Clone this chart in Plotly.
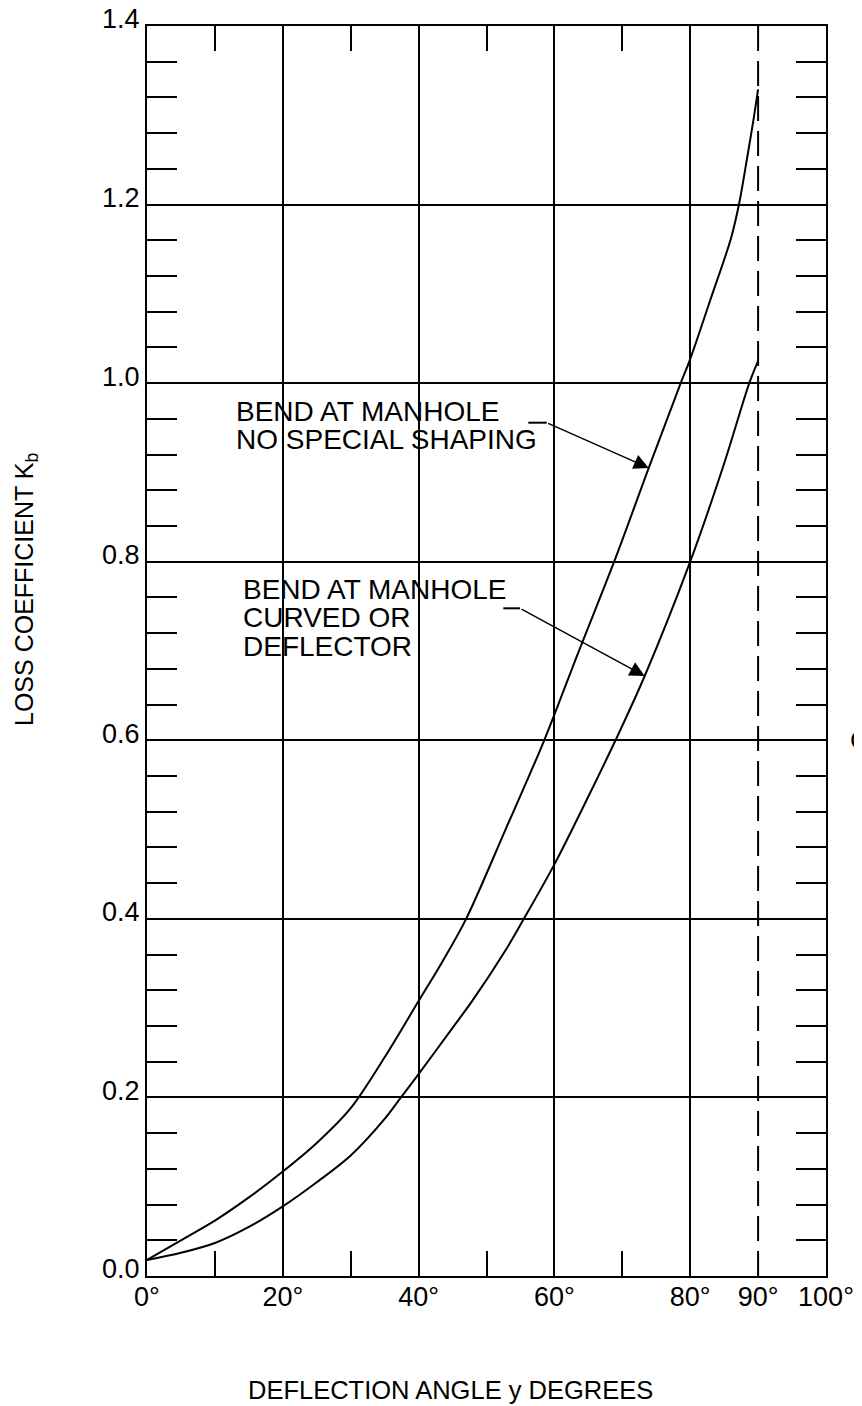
import plotly.graph_objects as go

# ---------------- data ----------------
angle_no_shaping = [0, 5, 10, 15, 20, 25, 30, 35, 40, 43.5, 47, 52.8, 58.5, 63.5,
                    68.8, 73.9, 78.6, 80, 83, 86, 87.2, 88.4, 89.3, 90]
k_no_shaping = [0.018, 0.040, 0.062, 0.088, 0.117, 0.149, 0.188, 0.245, 0.308, 0.352,
                0.400, 0.500, 0.600, 0.698, 0.800, 0.905, 1.000, 1.027, 1.094, 1.162,
                1.201, 1.253, 1.294, 1.329]

angle_curved = [0, 5, 10, 15, 20, 25, 30, 35, 37.4, 40, 45, 47.8, 52.9, 55.5, 60, 65,
                69, 73.3, 80, 85, 88.7, 90]
k_curved = [0.018, 0.026, 0.037, 0.055, 0.078, 0.105, 0.135, 0.176, 0.200, 0.226, 0.278,
            0.307, 0.366, 0.400, 0.461, 0.537, 0.600, 0.672, 0.800, 0.910, 1.000, 1.025]

limit_angle = [90, 90]
limit_k = [0.0, 1.4]

x_label_vals = [0, 20, 40, 60, 80, 90, 100]
x_label_text = ["0°", "20°", "40°", "60°", "80°", "90°", "100°"]
x_grid_vals = [20, 40, 60, 80]
x_minor_vals = [10, 30, 50, 70]

y_range = [0.0, 1.4]
x_range = [0, 100]

# ---------------- geometry / style ----------------
OFF = 8                      # page body margin of the html page
PAGE_W, PAGE_H = 862, 1406
W, H = PAGE_W - OFF, PAGE_H - OFF
L, T = 147 - OFF, 26 - OFF   # plot area: page x 147..826, page y 26..1276
PW, PH = 679, 1250
R, B = W - L - PW, H - T - PH
FONT = "Liberation Sans"
INK = "black"


def px_x(px):
    """page pixel x -> paper x"""
    return (px - OFF - L) / PW


def px_y(py):
    """page pixel y -> paper y"""
    return (T + PH - (py - OFF)) / PH


fig = go.Figure()

for xs, ys in [(angle_no_shaping, k_no_shaping), (angle_curved, k_curved)]:
    fig.add_trace(go.Scatter(
        x=xs, y=ys, mode="lines",
        line=dict(color=INK, width=2, shape="spline", smoothing=0.9),
        hoverinfo="skip", showlegend=False))

fig.add_trace(go.Scatter(
    x=limit_angle, y=limit_k, mode="lines", xaxis="x2", yaxis="y2",
    line=dict(color=INK, width=2, dash="25px,10px"),
    hoverinfo="skip", showlegend=False))

annotations = []

# label texts (one annotation per line): text, left page px, cap-centre page py
label_lines = [
    ("BEND AT MANHOLE", 236.7, 411.7),
    ("NO SPECIAL SHAPING", 236.7, 439.7),
    ("BEND AT MANHOLE", 244.0, 589.5),
    ("CURVED OR", 244.0, 617.8),
    ("DEFLECTOR", 244.0, 646.2),
]
for txt, lx, cy in label_lines:
    annotations.append(dict(
        text=txt, xref="paper", yref="paper", x=px_x(lx - 3), y=px_y(cy),
        xanchor="left", yanchor="middle", showarrow=False,
        font=dict(family=FONT, size=28, color=INK)))

# leader arrows: tip on curve (data), tail (page px), stub start (page px)
leaders = [
    (73.9, 0.905, 546.7, 422.7, 528.3),
    (73.3, 0.672, 520.0, 608.3, 503.3),
]
shapes = []
for tx, ty, tail_px, tail_py, stub_px in leaders:
    annotations.append(dict(
        text="", x=tx, y=ty, xref="x", yref="y",
        axref="x", ayref="y",
        ax=x_range[0] + px_x(tail_px) * (x_range[1] - x_range[0]),
        ay=y_range[0] + px_y(tail_py) * (y_range[1] - y_range[0]),
        showarrow=True, arrowhead=2, arrowsize=2.0, arrowwidth=1.5,
        arrowcolor=INK, standoff=0))
    shapes.append(dict(
        type="line", xref="paper", yref="paper",
        x0=px_x(stub_px), x1=px_x(tail_px), y0=px_y(tail_py), y1=px_y(tail_py),
        line=dict(color=INK, width=2)))

# axis titles
annotations.append(dict(
    text="DEFLECTION ANGLE y DEGREES", xref="paper", yref="paper",
    x=px_x(450), y=px_y(1390), xanchor="center", yanchor="middle",
    showarrow=False, font=dict(family=FONT, size=25.5, color=INK)))
annotations.append(dict(
    text="LOSS COEFFICIENT K<sub>b</sub>", xref="paper", yref="paper",
    x=px_x(26), y=px_y(590), xanchor="center", yanchor="middle", textangle=-90,
    showarrow=False, font=dict(family=FONT, size=25, color=INK)))
# text clipped at the right edge
annotations.append(dict(
    text="C", xref="paper", yref="y", x=px_x(848), y=0.6,
    xanchor="left", yanchor="middle", showarrow=False,
    font=dict(family=FONT, size=26, color=INK)))

fig.update_layout(
    width=W, height=H,
    margin=dict(l=L, r=R, t=T, b=B, pad=0, autoexpand=False),
    paper_bgcolor="white", plot_bgcolor="white",
    font=dict(family=FONT, color=INK),
    showlegend=False,
    xaxis=dict(
        range=x_range, tickmode="array", tickvals=x_label_vals, ticktext=x_label_text,
        ticks="", showgrid=False, zeroline=False, automargin=False,
        showline=True, linecolor=INK, linewidth=2, mirror=True,
        tickfont=dict(family=FONT, size=27, color=INK), ticklabelstandoff=-4,
        minor=dict(tickmode="array", tickvals=x_minor_vals, ticks="inside",
                   ticklen=25, tickwidth=2, tickcolor=INK, showgrid=False)),
    xaxis2=dict(
        range=x_range, overlaying="x", side="top", automargin=False,
        tickmode="array", tickvals=x_grid_vals, ticks="", showticklabels=False,
        showgrid=True, gridcolor=INK, gridwidth=2, zeroline=False, showline=False,
        minor=dict(tickmode="array", tickvals=x_minor_vals, ticks="inside",
                   ticklen=25, tickwidth=2, tickcolor=INK, showgrid=False)),
    yaxis=dict(
        range=y_range, tickmode="linear", tick0=0, dtick=0.2, tickformat=".1f",
        ticks="", showgrid=True, gridcolor=INK, gridwidth=2, zeroline=False,
        showline=True, linecolor=INK, linewidth=2, mirror=True, automargin=False,
        tickfont=dict(family=FONT, size=27, color=INK), ticklabelshift=-7,
        ticklabeloverflow="allow",
        minor=dict(tick0=0, dtick=0.04, ticks="inside", ticklen=30,
                   tickwidth=2, tickcolor=INK, showgrid=False)),
    yaxis2=dict(
        range=y_range, overlaying="y", side="right", automargin=False,
        tickmode="linear", tick0=0, dtick=0.2, ticks="", showticklabels=False,
        showgrid=False, zeroline=False, showline=False,
        minor=dict(tick0=0, dtick=0.04, ticks="inside", ticklen=30,
                   tickwidth=2, tickcolor=INK, showgrid=False)),
    annotations=annotations,
    shapes=shapes,
)

fig.write_html("out.html")
